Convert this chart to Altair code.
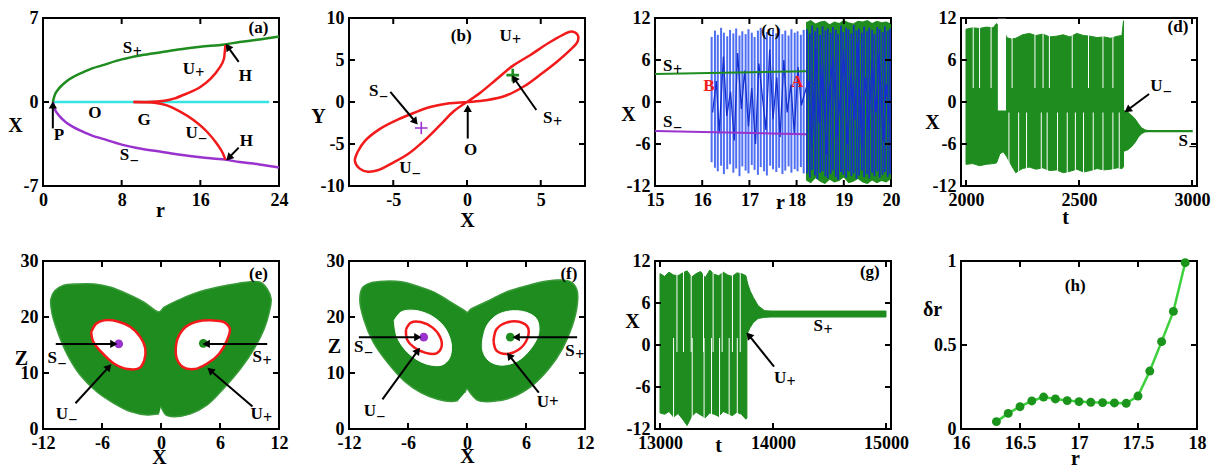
import math
import pandas as pd
import altair as alt

FONT = "Liberation Serif"
W, H, TL = 236, 168, 6
GREEN = "#1e8c1e"
PURPLE = "#9a32cd"
CYAN = "#35e3e3"
RED = "#f21a1a"
BLUE_L = "#4f6ff2"
BLUE_D = "#1530cc"
LGREEN = "#3dd13d"
DGREEN = "#1a941a"

# ---------------- (a) fixed points vs r ----------------
a_r = [1.0, 1.2, 1.5, 2.0, 2.5, 3.0, 4.0, 5.0, 6.0, 8.0, 10.0, 12.0, 14.0, 16.0, 18.5, 20.0, 22.0, 24.0]
a_splus = [0.0, 0.6, 1.0, 1.45, 1.8, 2.05, 2.45, 2.8, 3.05, 3.55, 3.9, 4.15, 4.4, 4.6, 4.8, 5.0, 5.2, 5.45]
a_sminus = [0.0, -0.6, -1.0, -1.45, -1.8, -2.05, -2.45, -2.8, -3.05, -3.55, -3.9, -4.15, -4.4, -4.6, -4.8, -5.0, -5.2, -5.45]
a_o_r = [1.0, 23.0]
a_o_x = [0.0, 0.0]
a_up_r = [9.2, 10.5, 11.5, 12.5, 13.3, 14.6, 16.0, 17.0, 17.9, 18.4, 18.55]
a_up_x = [0.0, 0.01, 0.04, 0.12, 0.28, 0.7, 1.25, 1.9, 2.8, 3.6, 4.75]
a_um_r = [9.2, 10.5, 11.5, 12.6, 13.9, 15.3, 16.7, 17.7, 18.3, 18.55]
a_um_x = [0.0, -0.02, -0.08, -0.28, -0.78, -1.5, -2.5, -3.5, -4.3, -4.8]
a_lab_t = ["(a)", "S", "U", "H", "O", "G", "U", "H", "S", "P"]
a_lab_s = ["", "+", "+", "", "", "", "−", "", "−", ""]
a_lab_x = [20.9, 8.1, 14.2, 19.9, 4.6, 9.6, 14.5, 20.0, 7.8, 1.1]
a_lab_y = [6.2, 4.5, 2.75, 2.2, -0.95, -1.5, -2.6, -3.25, -4.4, -2.75]
a_arr = ([1.0, 19.9, 19.9], [-2.2, 3.35, -3.8], [1.0, 18.8, 18.9], [-0.25, 4.6, -4.65])

# ---------------- (b) figure-eight orbit ----------------
b_loop_x = [0.0, 0.9, 2.0, 3.1, 4.3, 5.5, 6.5, 7.1, 7.5, 7.5, 7.0, 6.1, 5.0, 3.9, 2.7, 1.3, 0.0,
            -1.2, -2.5, -3.6, -4.7, -5.9, -6.9, -7.4, -7.6, -7.3, -6.7, -6.0, -5.2, -4.0, -2.9, -1.8, -0.9, 0.0]
b_loop_y = [0.0, 1.1, 2.7, 4.3, 5.6, 7.0, 8.0, 8.4, 8.0, 7.2, 6.2, 4.8, 3.3, 1.9, 0.8, 0.2, 0.0,
            -0.15, -0.6, -1.3, -2.1, -3.2, -4.6, -5.9, -7.0, -7.9, -8.3, -8.1, -7.4, -6.2, -4.6, -2.7, -1.1, 0.0]
b_sm = (-3.1, -3.1)
b_sp = (3.1, 3.2)
b_lab_t = ["(b)", "U", "S", "O", "S", "U"]
b_lab_s = ["", "+", "−", "", "+", "−"]
b_lab_x = [-1.1, 2.2, -6.65, -0.2, 5.15, -4.6]
b_lab_y = [7.8, 7.8, 1.35, -5.7, -1.95, -7.9]
b_arr = ([-5.2, 0.05, 4.7], [1.2, -4.35, -0.95], [-3.5, 0.05, 3.2], [-2.35, -0.75, 2.8])

# ---------------- (c) bifurcation scan ----------------
c_sp_r = [15.0, 18.2]
c_sp_x = [4.0, 4.4]
c_sm_r = [15.0, 18.2]
c_sm_x = [-4.15, -4.6]
c_comb1_r = [16.20, 16.27, 16.33, 16.40, 16.46, 16.53, 16.59, 16.66, 16.72, 16.79, 16.85, 16.92, 16.98, 17.05,
             17.11, 17.18, 17.24, 17.31, 17.37, 17.44, 17.50, 17.57, 17.63, 17.70, 17.76, 17.83, 17.89, 17.96,
             18.02, 18.09, 18.15]
c_comb1_hi = [9.3, 10.2, 9.6, 10.6, 9.9, 9.4, 10.3, 9.8, 10.5, 9.5, 10.1, 9.7, 10.4, 9.9, 9.3, 10.2, 10.6, 9.6,
              10.0, 9.4, 10.3, 9.8, 10.5, 9.7, 10.2, 9.5, 10.4, 9.9, 10.1, 9.6, 10.3]
c_comb1_lo = [-8.6, -9.4, -9.9, -9.1, -10.3, -9.6, -8.9, -10.1, -9.5, -10.6, -9.2, -9.8, -10.2, -9.0, -9.7,
              -10.4, -9.3, -9.9, -10.5, -9.1, -9.6, -10.0, -9.4, -10.3, -9.8, -9.2, -10.1, -9.6, -9.9, -9.3, -10.2]
c_gr_r = [18.2, 18.3, 18.4, 18.5, 18.6, 18.7, 18.8, 18.9, 19.0, 19.1, 19.2, 19.3, 19.4, 19.5, 19.6, 19.7,
          19.8, 19.9, 20.0]
c_gr_hi = [11.4, 11.7, 11.2, 11.5, 11.6, 11.1, 11.5, 11.3, 11.7, 11.4, 11.2, 11.6, 11.5, 11.7, 11.3, 11.6,
           11.4, 11.5, 11.2]
c_gr_lo = [-11.2, -11.6, -10.9, -11.4, -11.7, -11.1, -11.5, -11.3, -10.8, -11.6, -11.4, -11.0, -11.5, -11.7,
           -11.2, -11.6, -11.3, -11.5, -11.0]
c_comb2_r = [18.22, 18.28, 18.33, 18.39, 18.44, 18.50, 18.55, 18.61, 18.66, 18.72, 18.77, 18.83, 18.88, 18.94,
             18.99, 19.05, 19.10, 19.16, 19.21, 19.27, 19.32, 19.38, 19.43, 19.49, 19.54, 19.60, 19.65, 19.71,
             19.76, 19.82, 19.87, 19.93, 19.98]
c_comb2_hi = [10.4, 9.8, 10.9, 10.1, 10.6, 9.6, 10.8, 10.2, 10.5, 9.9, 10.7, 10.3, 9.7, 10.9, 10.0, 10.6, 10.4,
              9.8, 11.0, 10.2, 10.5, 9.9, 10.8, 10.1, 10.6, 10.3, 9.7, 10.7, 10.4, 10.0, 10.8, 10.2, 10.5]
c_comb2_lo = [-10.2, -10.8, -9.7, -10.5, -11.0, -10.1, -9.9, -10.6, -10.9, -10.3, -9.8, -10.7, -11.1, -10.0,
              -10.4, -10.8, -9.9, -10.6, -10.2, -11.0, -10.5, -9.8, -10.7, -10.3, -10.9, -10.1, -10.6, -9.9,
              -10.8, -10.4, -10.0, -10.7, -10.3]
c_scr_r = [16.22, 16.30, 16.36, 16.45, 16.52, 16.60, 16.68, 16.75, 16.83, 16.90, 16.98, 17.05, 17.13, 17.20,
           17.28, 17.35, 17.43, 17.50, 17.58, 17.65, 17.73, 17.80, 17.88, 17.95, 18.03, 18.10, 18.16,
           18.25, 18.33, 18.40, 18.48, 18.55, 18.63, 18.70, 18.78, 18.85, 18.93, 19.00, 19.08, 19.15, 19.23,
           19.30, 19.38, 19.45, 19.53, 19.60, 19.68, 19.75, 19.83, 19.90, 19.97]
c_scr_x = [-1.5, 3.0, -4.5, 6.5, -2.0, 1.5, -5.5, 7.0, -1.0, 4.5, -3.5, 2.0, -6.0, 5.5, 0.5, -4.0, 7.5, -2.5,
           3.5, -5.0, 6.0, -1.5, 2.5, -4.5, 5.0, -0.5, 1.0,
           3.0, -6.5, 8.0, -3.0, 5.5, -7.5, 2.0, 6.5, -5.0, 1.0, 7.5, -6.0, 4.0, -2.5, 8.5, -7.0, 3.5, -4.0,
           6.0, -1.5, 7.0, -5.5, 2.5, -3.0]
c_lab_t = ["(c)", "S", "S", "B", "A"]
c_lab_s = ["", "+", "−", "", ""]
c_lab_x = [17.25, 15.17, 15.17, 16.02, 17.88]
c_lab_y = [10.2, 5.2, -2.8, 2.35, 2.9]
c_lab_c = ["black", "black", "black", RED, RED]

# ---------------- (d) time series, r below transition ----------------
d_env_t = [2000, 2030, 2060, 2090, 2120, 2135, 2150, 2165, 2180, 2200, 2220, 2250, 2280, 2310, 2340, 2370,
           2400, 2430, 2460, 2490, 2520, 2550, 2580, 2610, 2640, 2670, 2690, 2697]
d_env_hi = [10.4, 10.6, 10.5, 10.7, 10.6, 11.2, 10.8, 10.5, 9.2, 9.0, 9.1, 9.6, 9.8, 9.5, 9.7, 9.3, 9.4, 9.6,
            9.3, 9.8, 9.5, 9.4, 9.2, 9.3, 9.1, 9.4, 9.5, 11.6]
d_env_lo = [-8.9, -8.8, -9.1, -8.9, -8.8, -8.7, -7.4, -7.1, -7.8, -9.0, -10.1, -9.5, -9.3, -9.6, -9.4, -9.8,
            -9.7, -10.1, -9.9, -9.6, -10.0, -9.8, -9.5, -9.7, -9.6, -9.4, -9.5, -9.3]
d_gap_t0 = [2141]
d_gap_t1 = [2177]
d_gap_lo = [-1.2]
d_gap_hi = [11.9]
d_slit_top = [2032, 2060, 2111, 2204, 2305, 2341, 2369, 2470, 2542, 2606, 2650]
d_slit_bot = [2190, 2233, 2268, 2333, 2359, 2405, 2448, 2484, 2520, 2563, 2606, 2650, 2678]
d_dec_t = [2697, 2715, 2733, 2748, 2761, 2775, 2790, 2805, 3000]
d_dec_hi = [-1.2, -1.5, -2.0, -2.5, -3.1, -3.7, -4.0, -4.1, -4.1]
d_dec_lo = [-7.0, -6.8, -6.3, -5.7, -5.0, -4.5, -4.25, -4.2, -4.2]
d_lab_t = ["(d)", "U", "S"]
d_lab_s = ["", "−", "−"]
d_lab_x = [2892, 2815, 2940]
d_lab_y = [10.7, 2.3, -5.6]
d_arr = ([2810], [1.15], [2715], [-1.15])

# ---------------- (e) attractor with U orbits ----------------
e_bf_x = [-0.2, -1.4, -3.1, -4.8, -6.5, -8.2, -9.5, -10.5, -11.1, -11.2, -10.8, -10.0, -8.5, -6.8, -5.1, -3.4,
          -1.7, -0.2, 0.3, 2.0, 3.7, 5.7, 7.8, 9.1, 10.1, 10.8, 11.2, 11.0, 10.5, 9.5, 8.1, 6.4, 4.7, 3.0, 1.3,
          0.5, 0.0]
e_bf_z = [2.7, 2.5, 3.1, 4.6, 6.6, 9.6, 13.2, 17.3, 20.8, 23.2, 24.7, 25.6, 25.9, 25.9, 25.3, 24.1, 22.6, 20.9,
          21.7, 23.2, 24.4, 25.3, 26.0, 26.3, 26.2, 25.0, 23.2, 20.8, 17.9, 14.4, 10.8, 7.3, 4.3, 2.7, 2.2, 2.5,
          4.0]
e_hl_x = [-7.1, -6.6, -5.8, -4.4, -3.1, -2.1, -1.6, -1.7, -2.2, -3.4, -4.8, -6.1, -6.9, -7.1]
e_hl_z = [17.3, 18.8, 19.4, 19.2, 18.2, 16.4, 14.4, 12.3, 10.9, 10.7, 11.7, 13.8, 15.6, 17.3]
e_hr_x = [1.5, 1.7, 2.5, 3.7, 5.1, 6.4, 7.0, 6.7, 5.9, 4.7, 3.4, 2.2, 1.6, 1.5]
e_hr_z = [14.4, 16.2, 18.2, 19.2, 19.4, 19.1, 17.9, 15.8, 13.4, 11.7, 10.7, 11.1, 12.6, 14.4]
e_dot_x = [-4.3, 4.3]
e_dot_z = [15.2, 15.3]
e_lab_t = ["(e)", "S", "S", "U", "U"]
e_lab_s = ["", "−", "+", "−", "+"]
e_lab_x = [8.95, -11.55, 9.3, -10.7, 9.1]
e_lab_y = [27.6, 12.6, 12.9, 2.65, 2.65]
e_arr = ([-10.7, 10.8, -8.7, 9.3], [15.2, 15.2, 4.6, 4.0], [-4.8, 4.6, -5.3, 5.0], [15.2, 15.2, 11.1, 10.5])

# ---------------- (f) attractor, larger holes ----------------
f_bf_x = [-0.9, -1.6, -3.0, -4.7, -6.4, -8.1, -9.5, -10.5, -10.9, -10.6, -9.8, -8.4, -6.7, -5.0, -3.3, -1.6,
          -0.2, 0.0, 0.4, 2.2, 3.9, 5.9, 8.0, 9.7, 10.7, 11.2, 11.2, 10.7, 9.7, 8.3, 6.6, 4.5, 2.5, 1.1, 0.3, 0.0,
          -0.2]
f_bf_z = [5.1, 4.9, 5.3, 6.5, 8.6, 11.9, 15.4, 19.6, 23.2, 25.3, 26.1, 26.4, 26.3, 25.5, 24.4, 22.6, 21.1, 20.8,
          21.4, 22.9, 24.4, 25.5, 26.4, 26.6, 26.1, 24.7, 22.0, 18.4, 14.3, 10.7, 7.7, 5.6, 4.9, 5.1, 6.5, 7.2,
          6.5]
f_wl_x = [-7.4, -6.7, -5.4, -3.7, -2.3, -1.6, -1.8, -2.6, -4.3, -6.0, -7.1, -7.4]
f_wl_z = [19.4, 20.9, 21.2, 20.3, 18.2, 15.2, 12.6, 11.4, 11.7, 13.6, 16.4, 19.4]
f_wr_x = [1.6, 2.0, 3.0, 4.5, 6.1, 7.1, 7.3, 6.6, 5.2, 3.5, 2.2, 1.6, 1.6]
f_wr_z = [16.0, 18.4, 20.3, 21.1, 20.8, 19.6, 17.2, 14.6, 12.2, 11.4, 12.2, 14.0, 16.0]
f_rl_x = [-6.2, -5.7, -4.7, -3.5, -2.7, -2.6, -3.1, -4.2, -5.4, -6.1, -6.2]
f_rl_z = [17.8, 19.0, 19.1, 18.1, 16.3, 14.6, 13.5, 13.6, 14.6, 16.0, 17.8]
f_rr_x = [2.7, 3.0, 4.0, 5.4, 6.2, 6.1, 5.2, 4.0, 3.0, 2.7]
f_rr_z = [15.7, 17.8, 19.0, 19.1, 18.1, 16.0, 14.1, 13.4, 14.0, 15.7]
f_dot_x = [-4.4, 4.4]
f_dot_z = [16.4, 16.4]
f_lab_t = ["(f)", "S", "S", "U", "U+"]
f_lab_s = ["", "−", "+", "−", ""]
f_lab_x = [9.5, -11.5, 10.0, -10.5, 7.1]
f_lab_y = [27.6, 14.6, 14.0, 3.3, 4.75]
f_arr = ([-11.0, 11.2, -8.6, 7.3], [16.4, 16.4, 5.3, 6.5], [-5.0, 5.0, -5.0, 4.3], [16.4, 16.4, 14.0, 13.1])

# ---------------- (g) time series, approach to S+ ----------------
g_env_t = [13000, 13040, 13080, 13120, 13160, 13200, 13240, 13280, 13320, 13360, 13400, 13440, 13480, 13520,
           13560, 13600, 13640, 13680, 13720, 13760, 13769]
g_env_hi = [10.2, 9.8, 10.4, 10.0, 9.9, 10.3, 10.6, 9.7, 10.2, 10.5, 9.6, 10.7, 10.1, 9.9, 10.4, 10.0, 9.8,
            10.3, 10.2, 9.9, 9.3]
g_env_lo = [-9.7, -9.9, -9.5, -10.3, -9.8, -10.6, -11.5, -10.2, -9.6, -10.0, -10.4, -9.7, -9.9, -10.2, -9.5,
            -9.8, -10.1, -9.6, -9.9, -10.6, -10.4]
g_slit_top = [13150, 13208, 13276, 13385, 13470, 13550, 13641, 13710]
g_slit_bot = [13120, 13285, 13390, 13456, 13527, 13612, 13684]
g_dec_t = [13769, 13798, 13826, 13869, 13926, 13983, 15000]
g_dec_hi = [9.1, 7.7, 6.8, 5.6, 4.9, 4.85, 4.85]
g_dec_lo = [1.5, 2.5, 3.2, 3.8, 3.95, 4.0, 4.0]
g_lab_t = ["(g)", "S", "U"]
g_lab_s = ["", "+", "+"]
g_lab_x = [14769, 14359, 14009]
g_lab_y = [10.4, 2.7, -4.7]
g_arr = ([14009], [-3.1], [13786], [1.4])

# ---------------- (h) delta r vs r ----------------
h_r = [16.3, 16.4, 16.5, 16.6, 16.7, 16.8, 16.9, 17.0, 17.1, 17.2, 17.3, 17.4, 17.5, 17.6, 17.7, 17.8, 17.9]
h_dr = [0.044, 0.093, 0.133, 0.167, 0.19, 0.179, 0.169, 0.163, 0.159, 0.157, 0.155, 0.153, 0.196, 0.345,
        0.52, 0.70, 0.99]


def make_axis(vals, title, tx, ty, pad):
    return alt.Axis(values=vals, title=title, titleX=tx, titleY=ty, titleAngle=0,
                    titleAlign="center", titleBaseline="middle", titleFont=FONT,
                    titleFontSize=20, titleFontWeight="bold", titleColor="black",
                    labelFont=FONT, labelFontSize=18, labelFontWeight="bold", labelColor="black",
                    labelExpr="datum.value + ''", labelFlush=False, labelOverlap=False,
                    labelPadding=pad, ticks=False, domain=False, grid=False)


class Panel:
    def __init__(self, xdom, ydom, xvals, yvals, xt, yt, xpos, ypos):
        self.xdom, self.ydom = xdom, ydom
        self.xvals, self.yvals = xvals, yvals
        self.ax = make_axis(xvals, xt, xpos[0], xpos[1], 5)
        self.ay = make_axis(yvals, yt, ypos[0], ypos[1], 5)
        self.layers = []

    def X(self, f="x"):
        return alt.X(f"{f}:Q", scale=alt.Scale(domain=self.xdom, nice=False, zero=False), axis=self.ax)

    def Y(self, f="y"):
        return alt.Y(f"{f}:Q", scale=alt.Scale(domain=self.ydom, nice=False, zero=False), axis=self.ay)

    def add(self, *charts):
        self.layers.extend(charts)

    def line(self, xs, ys, color, width=2.5, interp="monotone", ordered=False, fill=None):
        df = pd.DataFrame({"x": xs, "y": ys, "i": list(range(len(xs)))})
        kw = dict(color=color, strokeWidth=width, interpolate=interp)
        if fill is not None:
            kw["fill"] = fill
        enc = dict(x=self.X(), y=self.Y())
        if ordered:
            enc["order"] = alt.Order("i:Q")
        self.add(alt.Chart(df).mark_line(**kw).encode(**enc))

    def slits(self, xs, lo, hi, width):
        # white gaps of the chaotic band, drawn as thin white rectangles
        df = pd.DataFrame({"x": xs, "lo": lo, "hi": hi})
        self.add(alt.Chart(df).mark_bar(color="white", width=width, opacity=1).encode(
            x=self.X(), y=self.Y("lo"), y2=alt.Y2("hi:Q")))

    def rules(self, xs, lo, hi, color, width):
        df = pd.DataFrame({"x": xs, "lo": lo, "hi": hi})
        self.add(alt.Chart(df).mark_rule(color=color, strokeWidth=width).encode(
            x=self.X(), y=self.Y("lo"), y2=alt.Y2("hi:Q")))

    def area(self, xs, lo, hi, color, stroke=None, sw=0):
        df = pd.DataFrame({"x": xs, "lo": lo, "hi": hi})
        kw = dict(color=color, opacity=1, interpolate="linear")
        if stroke:
            kw["stroke"] = stroke
            kw["strokeWidth"] = sw
        self.add(alt.Chart(df).mark_area(**kw).encode(x=self.X(), y=self.Y("lo"), y2=alt.Y2("hi:Q")))

    def rects(self, x0, x1, lo, hi, color):
        df = pd.DataFrame({"x": x0, "x1": x1, "lo": lo, "hi": hi})
        self.add(alt.Chart(df).mark_rect(color=color, opacity=1).encode(
            x=self.X(), x2=alt.X2("x1:Q"), y=self.Y("lo"), y2=alt.Y2("hi:Q")))

    def labels(self, texts, xs, ys, subs, colors=None, size=17):
        if colors is None:
            colors = ["black"] * len(texts)
        df = pd.DataFrame({"t": texts, "x": xs, "y": ys, "s": subs, "c": colors})
        self.add(alt.Chart(df).mark_text(align="left", baseline="middle", font=FONT, fontWeight="bold",
                                         fontSize=size).encode(
            x=self.X(), y=self.Y(), text="t:N", color=alt.Color("c:N", scale=None)))
        for letter, dx in (("S", 10), ("U", 12.5)):
            for sub, dy in (("+", 4), ("−", 6)):
                self.add(alt.Chart(df).transform_filter(
                    f"datum.t == '{letter}' && datum.s == '{sub}'").mark_text(
                    align="left", baseline="middle", font=FONT, fontWeight="bold", fontSize=size - 1,
                    dx=dx, dy=dy).encode(x=self.X(), y=self.Y(), text="s:N",
                                         color=alt.Color("c:N", scale=None)))

    def arrows(self, arr):
        x1, y1, x2, y2 = arr
        n = len(x1)
        seg = pd.DataFrame({"id": list(range(n)) * 2, "x": list(x1) + list(x2), "y": list(y1) + list(y2),
                            "o": [0] * n + [1] * n})
        self.add(alt.Chart(seg).mark_line(color="black", strokeWidth=2).encode(
            x=self.X(), y=self.Y(), detail="id:N", order=alt.Order("o:Q")))
        sx = W / (self.xdom[1] - self.xdom[0])
        sy = H / (self.ydom[1] - self.ydom[0])
        ang = [math.degrees(math.atan2(-(b2 - b1) * sy, (a2 - a1) * sx)) % 360
               for a1, b1, a2, b2 in zip(x1, y1, x2, y2)]
        hd = pd.DataFrame({"x": x2, "y": y2, "a": ang})
        self.add(alt.Chart(hd).mark_point(shape="triangle-right", filled=True, color="black", size=70,
                                          opacity=1).encode(
            x=self.X(), y=self.Y(), angle=alt.Angle("a:Q", scale=None)))

    def ticks(self):
        dfx = pd.DataFrame({"x": self.xvals})
        dfy = pd.DataFrame({"y": self.yvals})
        r = dict(color="black", strokeWidth=2)
        self.add(
            alt.Chart(dfx).mark_rule(**r).encode(x=self.X(), y=alt.value(H), y2=alt.value(H - TL)),
            alt.Chart(dfx).mark_rule(**r).encode(x=self.X(), y=alt.value(0), y2=alt.value(TL)),
            alt.Chart(dfy).mark_rule(**r).encode(y=self.Y(), x=alt.value(0), x2=alt.value(TL)),
            alt.Chart(dfy).mark_rule(**r).encode(y=self.Y(), x=alt.value(W - TL), x2=alt.value(W)),
        )

    def chart(self):
        self.ticks()
        return alt.layer(*self.layers).properties(
            width=W, height=H, view=alt.ViewBackground(stroke="black", strokeWidth=2, fill="white"))


# ---- (a)
pa = Panel([0, 24], [-7, 7], [0, 8, 16, 24], [-7, 0, 7], "r", "X", (117, 24), (-28, 107))
pa.line(a_o_r, a_o_x, CYAN, 2.5, "linear")
pa.line(a_r, a_splus, GREEN)
pa.line(a_r, a_sminus, PURPLE)
pa.line(a_up_r, a_up_x, RED)
pa.line(a_um_r, a_um_x, RED)
pa.arrows(a_arr)
pa.labels(a_lab_t, a_lab_x, a_lab_y, a_lab_s)

# ---- (b)
pb = Panel([-8, 8], [-10, 10], [-5, 0, 5], [-10, -5, 0, 5, 10], "X", "Y", (118, 34), (-31, 98))
pb.line(b_loop_x, b_loop_y, RED, 2.5, "catmull-rom", ordered=True)
for (px_, py_), col, sw in ((b_sm, PURPLE, 1.6), (b_sp, GREEN, 2.6)):
    pb.add(alt.Chart(pd.DataFrame({"x": [px_], "y": [py_]})).mark_point(
        shape="M-1,0L1,0M0,-1L0,1", filled=False, color=col, strokeWidth=sw, size=160, opacity=1).encode(
        x=pb.X(), y=pb.Y()))
pb.arrows(b_arr)
pb.labels(b_lab_t, b_lab_x, b_lab_y, b_lab_s)

# ---- (c)
pc = Panel([15, 20], [-12, 12], [15, 16, 17, 18, 19, 20], [-12, -6, 0, 6, 12], "r", "X", (125, 16), (-27, 96))
pc.area(c_gr_r, c_gr_lo, c_gr_hi, GREEN)
pc.rules(c_comb1_r, c_comb1_lo, c_comb1_hi, BLUE_L, 2)
pc.rules(c_comb2_r, c_comb2_lo, c_comb2_hi, BLUE_D, 1.7)
pc.line(c_scr_r, c_scr_x, BLUE_D, 1.3, "linear", ordered=True)
pc.line(c_sp_r, c_sp_x, GREEN, 2, "linear")
pc.line(c_sm_r, c_sm_x, PURPLE, 2, "linear")
pc.labels(c_lab_t, c_lab_x, c_lab_y, c_lab_s, c_lab_c)

# ---- (d)
pdd = Panel([2000, 3000], [-12, 12], [2000, 2500, 3000], [-12, -6, 0, 6, 12], "t", "X", (104, 31), (-29, 104))
pdd.area(d_env_t, d_env_lo, d_env_hi, GREEN, GREEN, 1)
pdd.rects(d_gap_t0, d_gap_t1, d_gap_lo, d_gap_hi, "white")
pdd.slits(d_slit_top, [2.0] * len(d_slit_top), [11.8] * len(d_slit_top), 1)
pdd.slits(d_slit_bot, [-1.5] * len(d_slit_bot), [-11.8] * len(d_slit_bot), 1)
pdd.area(d_dec_t, d_dec_lo, d_dec_hi, GREEN, GREEN, 1.5)
pdd.arrows(d_arr)
pdd.labels(d_lab_t, d_lab_x, d_lab_y, d_lab_s)

# ---- (e)
pe = Panel([-12, 12], [0, 30], [-12, -6, 0, 6, 12], [0, 10, 20, 30], "X", "Z", (116, 28), (-22, 97))
pe.line(e_bf_x, e_bf_z, "#3a9a3a", 1.5, "catmull-rom", ordered=True, fill=GREEN)
pe.line(e_hl_x, e_hl_z, RED, 2.5, "catmull-rom", ordered=True, fill="white")
pe.line(e_hr_x, e_hr_z, RED, 2.5, "catmull-rom", ordered=True, fill="white")
pe.add(alt.Chart(pd.DataFrame({"x": e_dot_x, "y": e_dot_z, "c": [PURPLE, GREEN]})).mark_circle(
    size=75, opacity=1).encode(x=pe.X(), y=pe.Y(), color=alt.Color("c:N", scale=None)))
pe.arrows(e_arr)
pe.labels(e_lab_t, e_lab_x, e_lab_y, e_lab_s)

# ---- (f)
pf = Panel([-12, 12], [0, 30], [-12, -6, 0, 6, 12], [0, 10, 20, 30], "X", "Z", (118, 27), (-15, 85))
pf.line(f_bf_x, f_bf_z, "#3a9a3a", 1.5, "catmull-rom", ordered=True, fill=GREEN)
pf.line(f_wl_x, f_wl_z, "white", 1, "catmull-rom", ordered=True, fill="white")
pf.line(f_wr_x, f_wr_z, "white", 1, "catmull-rom", ordered=True, fill="white")
pf.line(f_rl_x, f_rl_z, RED, 2.5, "catmull-rom", ordered=True)
pf.line(f_rr_x, f_rr_z, RED, 2.5, "catmull-rom", ordered=True)
pf.add(alt.Chart(pd.DataFrame({"x": f_dot_x, "y": f_dot_z, "c": [PURPLE, GREEN]})).mark_circle(
    size=75, opacity=1).encode(x=pf.X(), y=pf.Y(), color=alt.Color("c:N", scale=None)))
pf.arrows(f_arr)
pf.labels(f_lab_t, f_lab_x, f_lab_y, f_lab_s)

# ---- (g)
pg = Panel([13000, 15000], [-12, 12], [13000, 14000, 15000], [-12, -6, 0, 6, 12], "t", "X", (63, 16), (-23, 60))
pg.area(g_env_t, g_env_lo, g_env_hi, GREEN, GREEN, 1)
pg.slits(g_slit_top, [-1.0] * len(g_slit_top), [11.8] * len(g_slit_top), 1)
pg.slits(g_slit_bot, [1.0] * len(g_slit_bot), [-11.8] * len(g_slit_bot), 1)
pg.area(g_dec_t, g_dec_lo, g_dec_hi, GREEN, GREEN, 1)
pg.arrows(g_arr)
pg.labels(g_lab_t, g_lab_x, g_lab_y, g_lab_s)

# ---- (h)
ph = Panel([16, 18], [0, 1], [16, 16.5, 17, 17.5, 18], [0, 0.5, 1], "r", "δr", (114, 29), (-29, 48))
ph.line(h_r, h_dr, LGREEN, 2.5, "linear")
ph.add(alt.Chart(pd.DataFrame({"x": h_r, "y": h_dr})).mark_circle(size=80, color=DGREEN, opacity=1).encode(
    x=ph.X(), y=ph.Y()))
ph.labels(["(h)"], [16.88], [0.85], [""])

panels = [pa.chart(), pb.chart(), pc.chart(), pdd.chart(), pe.chart(), pf.chart(), pg.chart(), ph.chart()]
chart = alt.concat(*panels, columns=4, spacing={"row": 75, "column": 70}, bounds="flush").resolve_scale(
    x="independent", y="independent").properties(
    padding={"left": -2, "top": 0, "right": 0, "bottom": 0}
).configure(font=FONT).configure_view(stroke="black", strokeWidth=2)

chart.save("out.html", embed_options={"renderer": "svg", "actions": False})
